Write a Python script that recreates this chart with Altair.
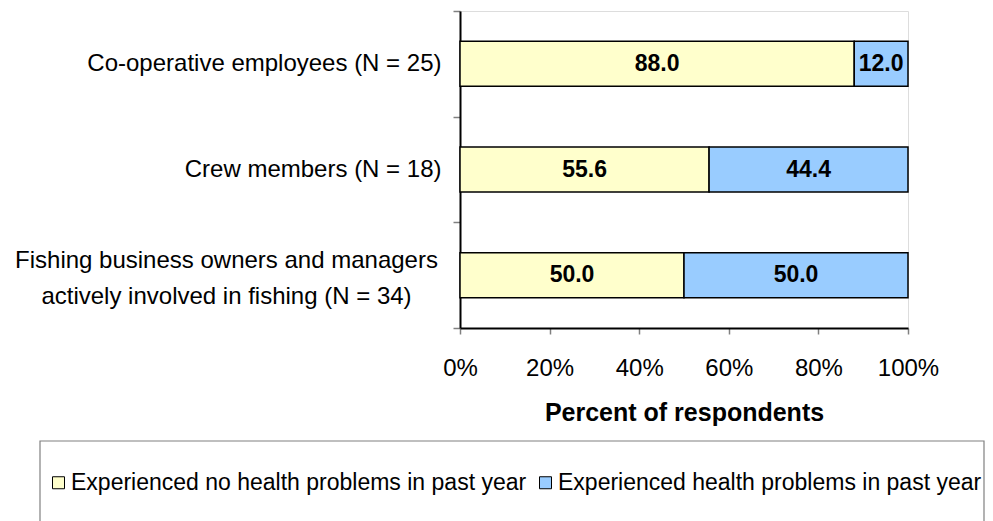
import altair as alt
import pandas as pd

categories = [
    "Co-operative employees (N = 25)",
    "Crew members (N = 18)",
    "Fishing business owners and managers|actively involved in fishing (N = 34)",
]
series_names = [
    "Experienced no health problems in past year",
    "Experienced health problems in past year",
]
no_problems = [88.0, 55.6, 50.0]
problems = [12.0, 44.4, 50.0]
x_ticks = [0, 20, 40, 60, 80, 100]
colors = ["#FFFFCC", "#99CCFF"]

rows = []
for cat, a, b in zip(categories, no_problems, problems):
    rows.append({"cat": cat, "series": series_names[0], "start": 0.0, "end": a, "mid": a / 2, "label": f"{a:.1f}", "ord": 0})
    rows.append({"cat": cat, "series": series_names[1], "start": a, "end": a + b, "mid": a + b / 2, "label": f"{b:.1f}", "ord": 1})
df = pd.DataFrame(rows)

FONT = "Liberation Sans"
multi = categories[2]
is_multi = f"datum.value == '{multi}'"

y_enc = alt.Y(
    "cat:N",
    sort=categories,
    scale=alt.Scale(paddingInner=0, paddingOuter=0),
    axis=alt.Axis(
        title=None,
        labelExpr="split(datum.label, '|')",
        labelFont=FONT,
        labelFontSize=24,
        labelColor="black",
        labelLimit=0,
        labelLineHeight=36,
        labelAlign=alt.condition(is_multi, alt.value("center"), alt.value("right")),
        labelPadding=alt.condition(is_multi, alt.value(227), alt.value(12)),
        labelOffset=alt.condition(is_multi, alt.value(-15), alt.value(0)),
        tickBand="extent",
        tickSize=7,
        tickColor="#808080",
        tickWidth=1.5,
        domainColor="black",
        domainWidth=2,
        grid=False,
    ),
)

x_enc = alt.X(
    "start:Q",
    scale=alt.Scale(domain=[0, 100], nice=False),
    axis=alt.Axis(
        title="Percent of respondents",
        values=x_ticks,
        labelExpr="datum.value + '%'",
        labelFont=FONT,
        labelFontSize=24,
        labelColor="black",
        labelPadding=22,
        labelFlush=False,
        tickSize=6,
        tickColor="#808080",
        tickWidth=1.5,
        domainColor="black",
        domainWidth=2,
        grid=False,
        titleFont=FONT,
        titleFontSize=25,
        titleFontWeight="bold",
        titleColor="black",
        titlePadding=20,
    ),
)

bars = alt.Chart(df).mark_bar(size=45, stroke="black", strokeWidth=1.5).encode(
    y=y_enc,
    x=x_enc,
    x2="end:Q",
    color=alt.Color(
        "series:N",
        scale=alt.Scale(domain=series_names, range=colors),
        legend=alt.Legend(
            title=None,
            orient="none",
            legendX=-413,
            legendY=460,
            direction="horizontal",
            symbolType="square",
            symbolSize=144,
            symbolStrokeColor="black",
            symbolStrokeWidth=1,
            labelFont=FONT,
            labelFontSize=23,
            labelColor="black",
            labelLimit=0,
            labelOffset=1,
            columnPadding=7,
        ),
    ),
    order="ord:Q",
)

texts = alt.Chart(df).mark_text(font=FONT, fontSize=23, fontWeight="bold", color="black").encode(
    y=alt.Y("cat:N", sort=categories),
    x=alt.X("mid:Q"),
    text="label:N",
)

frame = alt.Chart(alt.Data(values=[{"k": 1}])).mark_rect(
    fillOpacity=0, stroke="#808080", strokeWidth=1.2
).encode(
    x=alt.value(-420), x2=alt.value(524), y=alt.value(430), y2=alt.value(530)
)

chart = alt.layer(bars, texts, frame).properties(
    width=448,
    height=317,
    autosize=alt.AutoSizeParams(type="none"),
    padding={"left": 452, "top": 3, "right": 77, "bottom": 193},
).configure_view(stroke="black", strokeWidth=1.5).configure(background="white")

chart.save("out.html", embed_options={"renderer": "svg", "actions": False})
